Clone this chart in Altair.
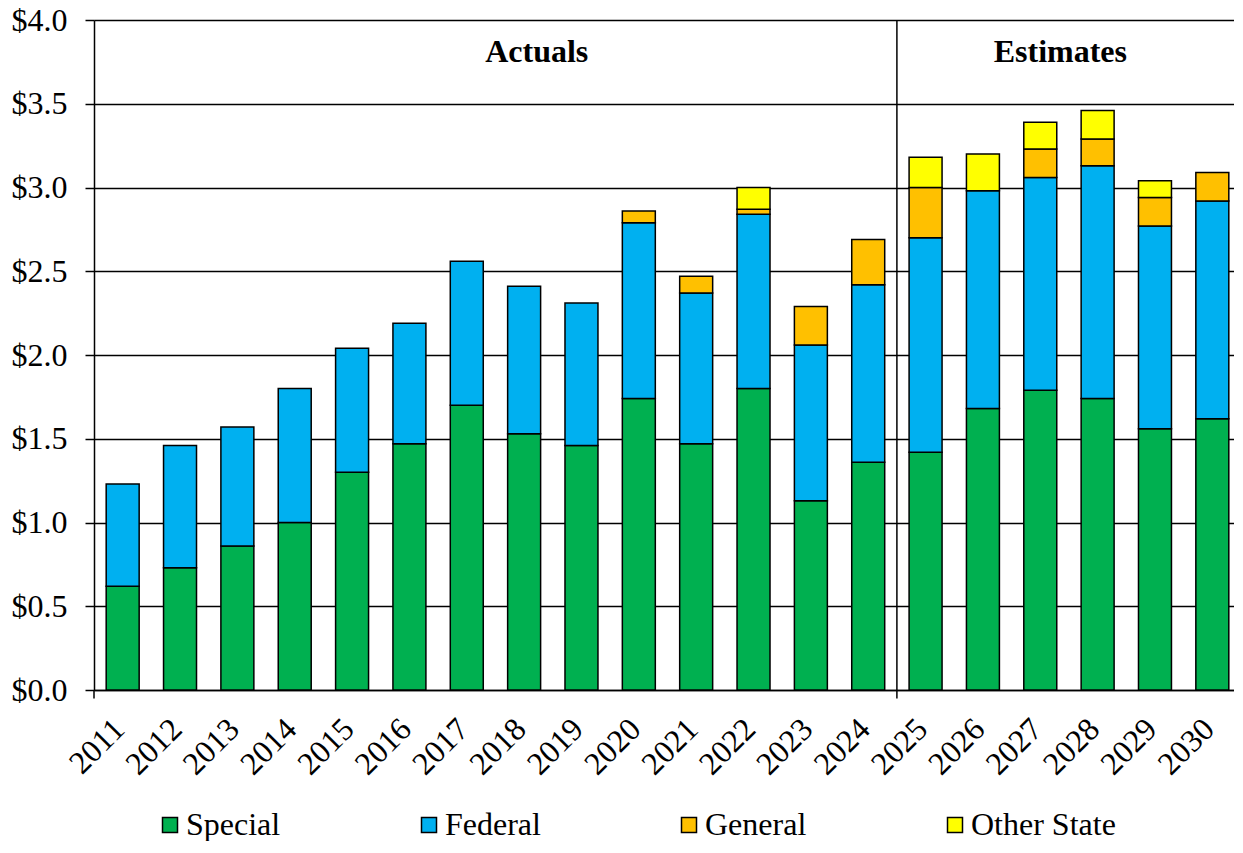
import altair as alt
import pandas as pd

years = [str(y) for y in range(2011, 2031)]
special = [0.62, 0.73, 0.86, 1.00, 1.30, 1.47, 1.70, 1.53, 1.46, 1.74,
           1.47, 1.80, 1.13, 1.36, 1.42, 1.68, 1.79, 1.74, 1.56, 1.62]
federal = [0.61, 0.73, 0.71, 0.80, 0.74, 0.72, 0.86, 0.88, 0.85, 1.05,
           0.90, 1.04, 0.93, 1.06, 1.28, 1.30, 1.27, 1.39, 1.21, 1.30]
general = [0, 0, 0, 0, 0, 0, 0, 0, 0, 0.07,
           0.10, 0.03, 0.23, 0.27, 0.30, 0, 0.17, 0.16, 0.17, 0.17]
other_state = [0, 0, 0, 0, 0, 0, 0, 0, 0, 0,
               0, 0.13, 0, 0, 0.18, 0.22, 0.16, 0.17, 0.10, 0]
series = ["Special", "Federal", "General", "Other State"]
colors = ["#00B050", "#00B0F0", "#FFC000", "#FFFF00"]
y_ticks = [0, 0.5, 1.0, 1.5, 2.0, 2.5, 3.0, 3.5, 4.0]

section_labels = ["Actuals", "Estimates"]
section_years = ["2018", "2027"]
boundary_years = ["2011", "2025"]

rows = []
for i, yr in enumerate(years):
    for k, (name, vals) in enumerate(zip(series, [special, federal, general, other_state])):
        if vals[i] > 0:
            rows.append({"year": yr, "series": name, "value": vals[i], "order": k})
df = pd.DataFrame(rows)

FONT = "Liberation Serif"

x_enc = alt.X(
    "year:N", sort=years,
    scale=alt.Scale(paddingInner=0, paddingOuter=0),
    axis=alt.Axis(title=None, labelAngle=-45, labelFontSize=32, labelFont=FONT,
                  labelColor="black", ticks=False, domainColor="black", domainWidth=1.5,
                  labelPadding=23, labelOffset=-14, labelAlign="right", labelBaseline="top"),
)

bars = alt.Chart(df).mark_bar(
    width=alt.RelativeBandSize(0.575), stroke="black", strokeWidth=1.5
).encode(
    x=x_enc,
    y=alt.Y("value:Q", stack="zero", scale=alt.Scale(domain=[0, 4], nice=False),
            axis=alt.Axis(title=None, values=y_ticks, format="$.1f", grid=True,
                          gridColor="black", gridWidth=1.5, tickColor="black", tickSize=9,
                          tickWidth=1.5, domainColor="black", domainWidth=1.5,
                          labelFontSize=32, labelFont=FONT, labelColor="black",
                          labelPadding=18)),
    color=alt.Color("series:N", scale=alt.Scale(domain=series, range=colors),
                    legend=alt.Legend(title=None, orient="none", legendX=60, legendY=789,
                                      direction="horizontal", columns=4, columnPadding=132,
                                      symbolType="square", symbolSize=225,
                                      symbolStrokeColor="black", symbolStrokeWidth=1.5,
                                      labelFontSize=32, labelFont=FONT, labelColor="black",
                                      labelOffset=0, labelLimit=400, padding=0)),
    order=alt.Order("order:Q", sort="ascending"),
)

rule_df = pd.DataFrame({"year": boundary_years, "top": [0, 4.0], "bottom": [-0.05, -0.05]})
rules = alt.Chart(rule_df).mark_rule(color="black", strokeWidth=1.5).encode(
    x=alt.X("year:N", sort=years, bandPosition=0),
    y=alt.Y("top:Q"),
    y2="bottom:Q",
)

lab_layers = []
band_pos = [0.72, 0.85]
for lab, yr, bp in zip(section_labels, section_years, band_pos):
    tdf = pd.DataFrame({"year": [yr], "label": [lab], "yv": [3.75]})
    lab_layers.append(
        alt.Chart(tdf).mark_text(font=FONT, fontSize=32, fontWeight="bold", color="black",
                                 align="center", baseline="alphabetic").encode(
            x=alt.X("year:N", sort=years, bandPosition=bp),
            y=alt.Y("yv:Q"),
            text="label:N",
        )
    )

chart = alt.layer(bars, rules, *lab_layers).properties(
    width=1147, height=670,
    padding={"left": 86, "top": 12, "right": -7, "bottom": 151},
    autosize="none",
).configure_view(strokeWidth=0).configure(background="white")

chart.save("out.html", embed_options={"renderer": "svg", "actions": False})
